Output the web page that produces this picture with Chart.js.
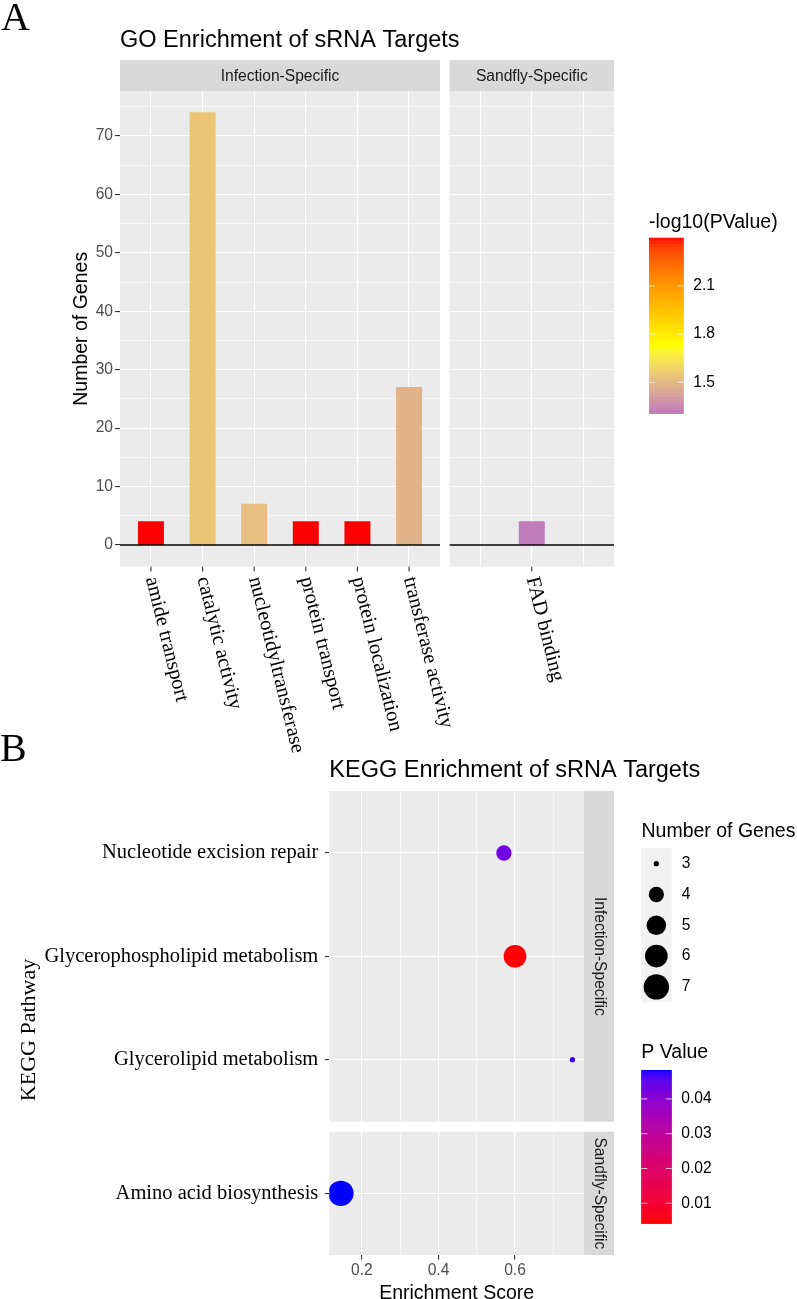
<!DOCTYPE html>
<html>
<head>
<meta charset="utf-8">
<script src="https://cdn.jsdelivr.net/npm/chart.js@4.4.1/dist/chart.umd.min.js"></script>
<style>
  html, body { margin: 0; padding: 0; background: #ffffff; }
  #wrap { position: relative; width: 797px; height: 1299px; overflow: hidden; }
  #wrap canvas { position: absolute; left: 0; top: 0; }
</style>
</head>
<body>
<div id="wrap">
  <canvas id="goInf" width="797" height="1299"></canvas>
  <canvas id="goSand" width="797" height="1299"></canvas>
  <canvas id="keggInf" width="797" height="1299"></canvas>
  <canvas id="keggSand" width="797" height="1299"></canvas>
</div>
<script>
// ===================== DATA =====================
// Panel A: GO enrichment (bar heights = number of genes, fill = -log10(P))
const goInfectionTerms = ['amide transport', 'catalytic activity', 'nucleotidyltransferase',
                          'protein transport', 'protein localization', 'transferase activity'];
const goInfectionGenes = [4, 74, 7, 4, 4, 27];
const goInfectionNegLog10P = [2.40, 1.54, 1.515, 2.40, 2.40, 1.485];

const goSandflyTerms = ['', 'FAD binding', ''];
const goSandflyGenes = [null, 4, null];
const goSandflyNegLog10P = [null, 1.307, null];

const goYMajorTicks = [0, 10, 20, 30, 40, 50, 60, 70];
const goYMinorTicks = [5, 15, 25, 35, 45, 55, 65, 75];
const goLegendTicks = [1.5, 1.8, 2.1];

// Panel B: KEGG enrichment (bottom-to-top order inside each facet)
const keggInfectionPathways = ['Glycerolipid metabolism', 'Glycerophospholipid metabolism', 'Nucleotide excision repair'];
const keggInfectionScore = [0.750, 0.600, 0.571];
const keggInfectionGenes = [3, 6, 4];
const keggInfectionP = [0.047, 0.00425, 0.043];

const keggSandflyPathways = ['Amino acid biosynthesis'];
const keggSandflyScore = [0.145];
const keggSandflyGenes = [7];
const keggSandflyP = [0.0483];

const keggXMajorTicks = [0.2, 0.4, 0.6];
const keggXMinorTicks = [0.3, 0.5, 0.7];
const keggSizeBreaks = [3, 4, 5, 6, 7];
const keggPTicks = [0.01, 0.02, 0.03, 0.04];

// ===================== STYLE =====================
const SANS = 'Liberation Sans';
const SERIF = 'Liberation Serif';
const PANEL_BG = '#EBEBEB';
const STRIP_BG = '#D9D9D9';
const STRIP_TXT = '#1A1A1A';
const AXIS_TXT = '#4D4D4D';
const TICK_COL = '#333333';
const GRID_MAJOR = 1.1, GRID_MINOR = 0.55;
const LABEL_ANGLE = 76 * Math.PI / 180;

// ---- Lab colour interpolation (as ggplot gradients) ----
function hex2rgb(h) { h = h.replace('#', ''); return [0, 2, 4].map(i => parseInt(h.substr(i, 2), 16)); }
function s2l(c) { c /= 255; return c <= 0.04045 ? c / 12.92 : Math.pow((c + 0.055) / 1.055, 2.4); }
function l2s(c) { c = c <= 0.0031308 ? 12.92 * c : 1.055 * Math.pow(c, 1 / 2.4) - 0.055; return Math.round(Math.max(0, Math.min(1, c)) * 255); }
function rgb2lab(rgb) {
  const [r, g, b] = rgb.map(s2l);
  const x = (r * 0.4124 + g * 0.3576 + b * 0.1805) / 0.95047;
  const y = (r * 0.2126 + g * 0.7152 + b * 0.0722);
  const z = (r * 0.0193 + g * 0.1192 + b * 0.9505) / 1.08883;
  const f = t => t > 0.008856 ? Math.cbrt(t) : 7.787 * t + 16 / 116;
  const fx = f(x), fy = f(y), fz = f(z);
  return [116 * fy - 16, 500 * (fx - fy), 200 * (fy - fz)];
}
function lab2rgb([L, a, bb]) {
  const fy = (L + 16) / 116, fx = fy + a / 500, fz = fy - bb / 200;
  const fi = t => t * t * t > 0.008856 ? t * t * t : (t - 16 / 116) / 7.787;
  const x = fi(fx) * 0.95047, y = fi(fy), z = fi(fz) * 1.08883;
  const r = x * 3.2406 + y * -1.5372 + z * -0.4986;
  const g = x * -0.9689 + y * 1.8758 + z * 0.0415;
  const b = x * 0.0557 + y * -0.2040 + z * 1.0570;
  return [l2s(r), l2s(g), l2s(b)];
}
function makeGradient(stops) {
  const labs = stops.map(s => [s[0], rgb2lab(hex2rgb(s[1]))]);
  return t => {
    t = Math.max(0, Math.min(1, t));
    for (let i = 0; i < labs.length - 1; i++) {
      const [t0, l0] = labs[i], [t1, l1] = labs[i + 1];
      if (t <= t1 || i === labs.length - 2) {
        const u = (t - t0) / (t1 - t0);
        const [r, g, b] = lab2rgb(l0.map((v, k) => v + (l1[k] - v) * u));
        return `rgb(${r},${g},${b})`;
      }
    }
  };
}
const goGrad = makeGradient([[0, '#BF7BBA'], [0.38, '#FFFF00'], [0.68, '#FFA500'], [1, '#FF0000']]);
const pGrad = makeGradient([[0, '#FF0000'], [1, '#0000FF']]);

const goAllP = goInfectionNegLog10P.concat(goSandflyNegLog10P).filter(v => v !== null);
const goPMin = Math.min(...goAllP), goPMax = Math.max(...goAllP);
const goColor = v => goGrad((v - goPMin) / (goPMax - goPMin));

const keggAllP = keggInfectionP.concat(keggSandflyP);
const kPMin = Math.min(...keggAllP), kPMax = Math.max(...keggAllP);
const pColor = v => pGrad((v - kPMin) / (kPMax - kPMin));

const keggAllGenes = keggInfectionGenes.concat(keggSandflyGenes);
const gMin = Math.min(...keggAllGenes), gMax = Math.max(...keggAllGenes);
const R_MIN = 2.6, R_MAX = 12.7;
const radiusFor = n => R_MIN + (R_MAX - R_MIN) * Math.sqrt((n - gMin) / (gMax - gMin));

// ggplot-style 5% expansion of continuous axes
const goAllGenes = goInfectionGenes.concat(goSandflyGenes).filter(v => v !== null);
const goYLo = 0, goYHi = Math.max(...goAllGenes);
const goYMin = goYLo - 0.05 * (goYHi - goYLo), goYMax = goYHi + 0.05 * (goYHi - goYLo);
const keggAllScore = keggInfectionScore.concat(keggSandflyScore);
const kxLo = Math.min(...keggAllScore), kxHi = Math.max(...keggAllScore);
const kxMin = kxLo - 0.05 * (kxHi - kxLo), kxMax = kxHi + 0.05 * (kxHi - kxLo);

// ---- Layout (page pixels) ----
const W = 797, H = 1299;
const GO_TOP = 91, GO_BOTTOM = 566.6, GO_L_LEFT = 120, GO_L_RIGHT = 440, GO_R_LEFT = 449.6, GO_R_RIGHT = 614;
const K_LEFT = 329.3, K_RIGHT = 584, K1_TOP = 791, K1_BOTTOM = 1121.7, K2_TOP = 1131.7, K2_BOTTOM = 1255;

// ---- helpers ----
const font = (size, fam) => `${size}px "${fam}"`;
function fillBg(chart) {
  const { ctx, chartArea: a } = chart;
  ctx.save(); ctx.fillStyle = PANEL_BG; ctx.fillRect(a.left, a.top, a.right - a.left, a.bottom - a.top); ctx.restore();
}
function topStrip(chart, text) {
  const { ctx, chartArea: a } = chart;
  ctx.save();
  ctx.fillStyle = STRIP_BG; ctx.fillRect(a.left, a.top - 31, a.right - a.left, 31);
  ctx.fillStyle = STRIP_TXT; ctx.font = font(15.6, SANS); ctx.textAlign = 'center'; ctx.textBaseline = 'middle';
  ctx.fillText(text, (a.left + a.right) / 2, a.top - 14.5);
  ctx.restore();
}
function rightStrip(chart, text) {
  const { ctx, chartArea: a } = chart;
  ctx.save();
  ctx.fillStyle = STRIP_BG; ctx.fillRect(a.right, a.top, 30, a.bottom - a.top);
  ctx.translate(a.right + 15.5, (a.top + a.bottom) / 2); ctx.rotate(Math.PI / 2);
  ctx.fillStyle = STRIP_TXT; ctx.font = font(15.6, SANS); ctx.textAlign = 'center'; ctx.textBaseline = 'middle';
  ctx.fillText(text, 0, 0);
  ctx.restore();
}
function zeroLine(chart) {
  const { ctx, chartArea: a, scales: { y } } = chart;
  const py = y.getPixelForValue(0);
  ctx.save(); ctx.strokeStyle = '#000'; ctx.lineWidth = 1.6;
  ctx.beginPath(); ctx.moveTo(a.left, py); ctx.lineTo(a.right, py); ctx.stroke(); ctx.restore();
}
function goXLabels(chart, labels) {
  const { ctx, chartArea: a, scales: { x } } = chart;
  ctx.save();
  labels.forEach((lab, i) => {
    if (!lab) return;
    const px = x.getPixelForValue(i + 1);
    ctx.strokeStyle = TICK_COL; ctx.lineWidth = 1.1;
    ctx.beginPath(); ctx.moveTo(px, a.bottom); ctx.lineTo(px, a.bottom + 5); ctx.stroke();
    ctx.save();
    ctx.translate(px, a.bottom + 10.5); ctx.rotate(LABEL_ANGLE);
    ctx.fillStyle = '#000'; ctx.font = font(20.5, SERIF); ctx.textAlign = 'left'; ctx.textBaseline = 'middle';
    ctx.fillText(lab, 0, 0);
    ctx.restore();
  });
  ctx.restore();
}
function colorbar(ctx, o) {
  const { x, top, w, h, lo, hi, grad, ticks, fmt, title, titleY } = o;
  ctx.save();
  ctx.fillStyle = '#000'; ctx.font = font(19.5, SANS); ctx.textAlign = 'left'; ctx.textBaseline = 'alphabetic';
  ctx.fillText(title, x, titleY);
  const n = 300;
  for (let i = 0; i < n; i++) {
    const t = 1 - (i + 0.5) / n;
    ctx.fillStyle = grad(t);
    ctx.fillRect(x, top + i * h / n, w, h / n + 0.6);
  }
  ctx.font = font(15.6, SANS); ctx.textBaseline = 'middle';
  ticks.forEach(v => {
    const yy = top + (1 - (v - lo) / (hi - lo)) * h;
    ctx.strokeStyle = 'rgba(255,255,255,0.75)'; ctx.lineWidth = 1;
    ctx.beginPath(); ctx.moveTo(x, yy); ctx.lineTo(x + 6, yy); ctx.moveTo(x + w - 6, yy); ctx.lineTo(x + w, yy); ctx.stroke();
    ctx.fillStyle = '#000'; ctx.fillText(fmt(v), x + w + 9.6, yy);
  });
  ctx.restore();
}

const majorSetGo = new Set(goYMajorTicks);
const goYTickObjs = goYMajorTicks.concat(goYMinorTicks).sort((a, b) => a - b).map(v => ({ value: v }));
const majorSetK = new Set(keggXMajorTicks);
const kXTickObjs = keggXMajorTicks.concat(keggXMinorTicks).sort((a, b) => a - b).map(v => ({ value: v }));

function goYScale(showLabels) {
  return {
    type: 'linear', min: goYMin, max: goYMax,
    afterBuildTicks: s => { s.ticks = goYTickObjs.map(t => ({ value: t.value })); },
    afterFit: s => { s.width = showLabels ? 40 : 0; },
    border: { display: false },
    grid: {
      color: '#FFFFFF', drawTicks: showLabels, tickLength: 5, tickWidth: 1.1,
      lineWidth: c => (c.tick && majorSetGo.has(c.tick.value)) ? GRID_MAJOR : GRID_MINOR,
      tickColor: c => (c.tick && majorSetGo.has(c.tick.value)) ? TICK_COL : 'rgba(0,0,0,0)'
    },
    ticks: {
      display: showLabels, autoSkip: false, padding: 2, color: AXIS_TXT,
      font: { family: SANS, size: 15.6 },
      callback: v => majorSetGo.has(v) ? String(v) : ''
    }
  };
}
function goXScale(n) {
  return {
    type: 'linear', min: 0.4, max: n + 0.6, offset: false,
    afterBuildTicks: s => { s.ticks = Array.from({ length: n }, (_, i) => ({ value: i + 1 })); },
    afterFit: s => { s.height = 0; },
    border: { display: false },
    grid: { offset: false, color: '#FFFFFF', lineWidth: GRID_MAJOR, drawTicks: false },
    ticks: { display: false }
  };
}
const baseOpts = {
  responsive: false, animation: false, devicePixelRatio: 1,
  events: [],
  plugins: { legend: { display: false }, tooltip: { enabled: false }, title: { display: false } }
};

// ===================== CHART A (left facet) =====================
new Chart(document.getElementById('goInf'), {
  type: 'bar',
  data: {
    labels: goInfectionTerms,
    datasets: [{
      label: 'Number of Genes',
      data: goInfectionTerms.map((t, i) => ({ x: i + 1, y: goInfectionGenes[i] })),
      backgroundColor: goInfectionNegLog10P.map(goColor),
      borderWidth: 0, barThickness: 25.3
    }]
  },
  options: Object.assign({}, baseOpts, {
    layout: { padding: { left: GO_L_LEFT - 40, top: GO_TOP, right: W - GO_L_RIGHT, bottom: H - GO_BOTTOM } },
    scales: { x: goXScale(goInfectionTerms.length), y: goYScale(true) }
  }),
  plugins: [{
    id: 'goInfDeco',
    beforeDraw: c => fillBg(c),
    afterDatasetsDraw: c => zeroLine(c),
    afterDraw: c => {
      const { ctx, chartArea: a } = c;
      topStrip(c, 'Infection-Specific');
      goXLabels(c, goInfectionTerms);
      ctx.save();
      ctx.fillStyle = '#000';
      ctx.font = font(40, SERIF); ctx.textAlign = 'left'; ctx.textBaseline = 'alphabetic';
      ctx.fillText('A', 1, 30);
      ctx.font = font(23.5, SANS);
      ctx.fillText('GO Enrichment of sRNA Targets', a.left, 46.5);
      ctx.translate(86.5, (a.top + a.bottom) / 2 + 0); ctx.rotate(-Math.PI / 2);
      ctx.font = font(19.5, SANS); ctx.textAlign = 'center';
      ctx.fillText('Number of Genes', 0, 0);
      ctx.restore();
    }
  }]
});

// ===================== CHART A (right facet) =====================
new Chart(document.getElementById('goSand'), {
  type: 'bar',
  data: {
    labels: goSandflyTerms,
    datasets: [{
      label: 'Number of Genes',
      data: goSandflyTerms.map((t, i) => ({ x: i + 1, y: goSandflyGenes[i] })).filter(d => d.y !== null),
      backgroundColor: goSandflyNegLog10P.filter(v => v !== null).map(goColor),
      borderWidth: 0, barThickness: 25.3
    }]
  },
  options: Object.assign({}, baseOpts, {
    layout: { padding: { left: GO_R_LEFT, top: GO_TOP, right: W - GO_R_RIGHT, bottom: H - GO_BOTTOM } },
    scales: { x: goXScale(goSandflyTerms.length), y: goYScale(false) }
  }),
  plugins: [{
    id: 'goSandDeco',
    beforeDraw: c => fillBg(c),
    afterDatasetsDraw: c => zeroLine(c),
    afterDraw: c => {
      topStrip(c, 'Sandfly-Specific');
      goXLabels(c, goSandflyTerms);
      colorbar(c.ctx, {
        x: 649, top: 237.7, w: 34.7, h: 175.6, lo: goPMin, hi: goPMax, grad: goGrad,
        ticks: goLegendTicks, fmt: v => v.toFixed(1), title: '-log10(PValue)', titleY: 228.3
      });
    }
  }]
});

// ===================== CHART B (facets) =====================
function keggYScale(labels, showLabels) {
  return {
    type: 'linear', min: 0.4, max: labels.length + 0.6,
    afterBuildTicks: s => { s.ticks = labels.map((l, i) => ({ value: i + 1 })); },
    afterFit: s => { s.width = K_LEFT; },
    border: { display: false },
    grid: { color: '#FFFFFF', lineWidth: GRID_MAJOR, drawTicks: true, tickLength: 4.5, tickWidth: 1.1, tickColor: TICK_COL },
    ticks: {
      display: showLabels, autoSkip: false, padding: 6.5, color: '#000',
      font: { family: SERIF, size: 20.5 },
      callback: v => labels[Math.round(v) - 1] || ''
    }
  };
}
function keggXScale(showLabels) {
  return {
    type: 'linear', min: kxMin, max: kxMax,
    afterBuildTicks: s => { s.ticks = kXTickObjs.map(t => ({ value: t.value })); },
    afterFit: s => { s.height = showLabels ? 30 : 0; },
    border: { display: false },
    grid: {
      color: '#FFFFFF', drawTicks: showLabels, tickLength: 4.5, tickWidth: 1.1,
      lineWidth: c => (c.tick && majorSetK.has(c.tick.value)) ? GRID_MAJOR : GRID_MINOR,
      tickColor: c => (c.tick && majorSetK.has(c.tick.value)) ? TICK_COL : 'rgba(0,0,0,0)'
    },
    ticks: {
      display: showLabels, autoSkip: false, maxRotation: 0, minRotation: 0, padding: 2, color: AXIS_TXT,
      font: { family: SANS, size: 15.6 },
      callback: v => majorSetK.has(v) ? v.toFixed(1) : ''
    }
  };
}

new Chart(document.getElementById('keggInf'), {
  type: 'scatter',
  data: {
    datasets: [{
      label: 'Infection-Specific',
      data: keggInfectionPathways.map((p, i) => ({ x: keggInfectionScore[i], y: i + 1 })),
      pointRadius: keggInfectionGenes.map(radiusFor),
      pointBackgroundColor: keggInfectionP.map(pColor),
      pointBorderWidth: 0, pointBorderColor: 'rgba(0,0,0,0)'
    }]
  },
  options: Object.assign({}, baseOpts, {
    layout: { padding: { left: 0, top: K1_TOP, right: W - K_RIGHT, bottom: H - K1_BOTTOM } },
    scales: { x: keggXScale(false), y: keggYScale(keggInfectionPathways, true) }
  }),
  plugins: [{
    id: 'keggInfDeco',
    beforeDraw: c => fillBg(c),
    afterDraw: c => {
      const { ctx, chartArea: a } = c;
      rightStrip(c, 'Infection-Specific');
      ctx.save();
      ctx.fillStyle = '#000'; ctx.textAlign = 'left'; ctx.textBaseline = 'alphabetic';
      ctx.font = font(40, SERIF);
      ctx.fillText('B', 0, 761);
      ctx.font = font(23.5, SANS);
      ctx.fillText('KEGG Enrichment of sRNA Targets', a.left, 776.7);
      // size legend
      ctx.font = font(19.5, SANS);
      ctx.fillText('Number of Genes', 641.5, 836.7);
      const keyTop = 848.3, keyH = 30.8, keyX = 641, keyW = 30.7;
      ctx.fillStyle = '#F2F2F2';
      ctx.fillRect(keyX, keyTop, keyW, keyH * keggSizeBreaks.length);
      ctx.font = font(15.6, SANS); ctx.textBaseline = 'middle';
      keggSizeBreaks.forEach((b, i) => {
        const cy = keyTop + keyH * (i + 0.5);
        ctx.fillStyle = '#000';
        ctx.beginPath(); ctx.arc(keyX + keyW / 2, cy, radiusFor(b), 0, Math.PI * 2); ctx.fill();
        ctx.fillText(String(b), 681.7, cy);
      });
      ctx.restore();
      colorbar(ctx, {
        x: 641.3, top: 1070, w: 30.4, h: 153.3, lo: kPMin, hi: kPMax, grad: pGrad,
        ticks: keggPTicks, fmt: v => v.toFixed(2), title: 'P Value', titleY: 1058
      });
    }
  }]
});

new Chart(document.getElementById('keggSand'), {
  type: 'scatter',
  data: {
    datasets: [{
      label: 'Sandfly-Specific',
      data: keggSandflyPathways.map((p, i) => ({ x: keggSandflyScore[i], y: i + 1 })),
      pointRadius: keggSandflyGenes.map(radiusFor),
      pointBackgroundColor: keggSandflyP.map(pColor),
      pointBorderWidth: 0, pointBorderColor: 'rgba(0,0,0,0)'
    }]
  },
  options: Object.assign({}, baseOpts, {
    layout: { padding: { left: 0, top: K2_TOP, right: W - K_RIGHT, bottom: H - K2_BOTTOM - 30 } },
    scales: { x: keggXScale(true), y: keggYScale(keggSandflyPathways, true) }
  }),
  plugins: [{
    id: 'keggSandDeco',
    beforeDraw: c => fillBg(c),
    afterDraw: c => {
      const { ctx, chartArea: a } = c;
      rightStrip(c, 'Sandfly-Specific');
      ctx.save();
      ctx.fillStyle = '#000';
      ctx.font = font(19.5, SANS); ctx.textAlign = 'center'; ctx.textBaseline = 'alphabetic';
      ctx.fillText('Enrichment Score', (a.left + a.right) / 2, 1298.5);
      ctx.translate(35, 1030); ctx.rotate(-Math.PI / 2);
      ctx.font = font(22, SERIF);
      ctx.fillText('KEGG Pathway', 0, 0);
      ctx.restore();
    }
  }]
});
</script>
</body>
</html>
